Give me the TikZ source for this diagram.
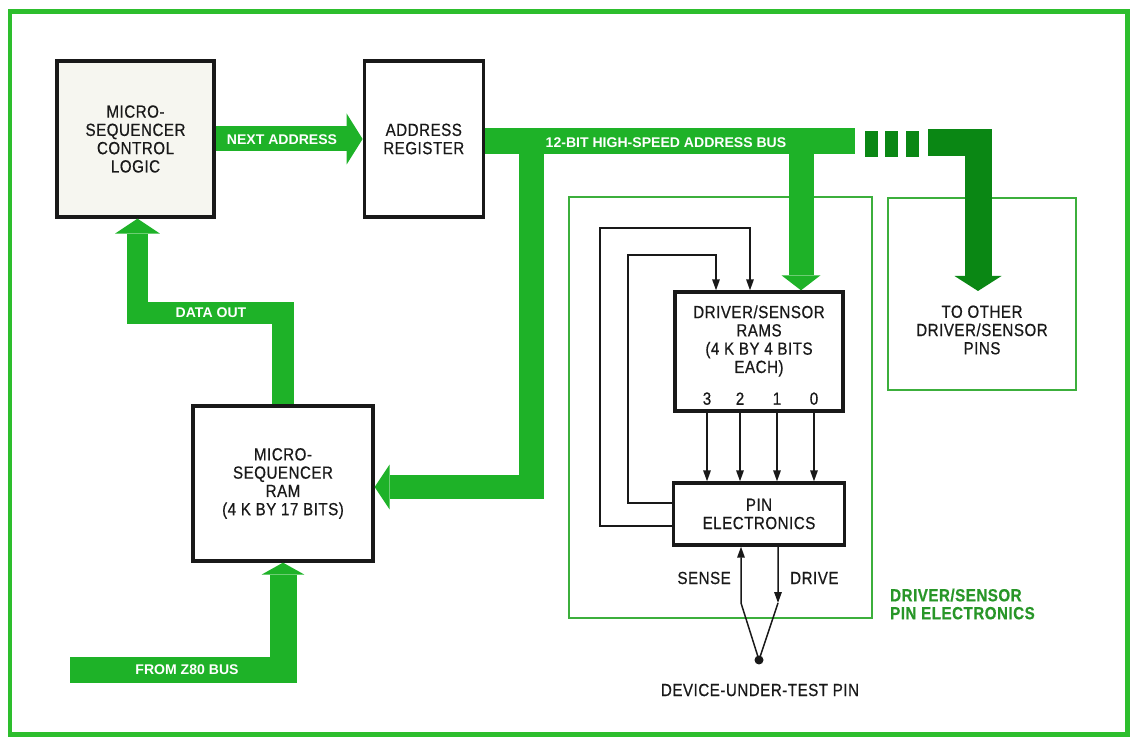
\documentclass[tikz,border=0pt]{standalone}
\usepackage{fontspec}
\setmainfont{Liberation Sans}[FakeStretch=0.86, FakeBold=0.6, LetterSpace=3]
\newfontfamily\tagfont{Liberation Sans}
\usetikzlibrary{arrows.meta,positioning,calc}
\definecolor{busgreen}{RGB}{30,178,40}
\definecolor{darkbus}{RGB}{10,135,20}
\definecolor{framegreen}{RGB}{45,190,45}
\definecolor{grpgreen}{RGB}{60,175,60}
\definecolor{labelgreen}{RGB}{40,150,40}
\definecolor{ink}{RGB}{25,25,25}
\definecolor{paper}{RGB}{246,246,240}
\tikzset{
  boxtext/.style={align=center, text=ink, font=\fontsize{10}{10.4}\selectfont},
  unit/.style={boxtext, rectangle, draw=ink, line width=1.9pt, fill=white, inner sep=0pt},
  grp/.style={rectangle, draw=grpgreen, line width=1.1pt, inner sep=0pt},
  grplbl/.style={align=left, text=labelgreen, font=\bfseries\fontsize{10}{10.2}\selectfont},
  tag/.style={text=white, font=\tagfont\bfseries\fontsize{8}{9}\selectfont},
  bitlbl/.style={text=ink, font=\fontsize{10}{10}\selectfont},
  bus/.style={draw=busgreen, line width=0.52cm},
  busarrow/.style={bus, line width=0.5cm, -{Triangle[length=0.3cm, width=0.9cm, line width=0pt]}},
  sig/.style={draw=ink, line width=0.85pt},
  sigarrow/.style={sig, -{Triangle[length=0.22cm, width=0.15cm]}},
  frame/.style={draw=framegreen, line width=0.1cm},
}
\begin{document}
\begin{tikzpicture}[x=0.02cm, y=-0.02cm]
  \useasboundingbox (0,0) rectangle (1133,739);
  \draw[frame] (10,12) rectangle (1127,734);

  \node[unit, fill=paper, minimum width=3.14cm, minimum height=3.12cm] (ctrl) at (135.5,139)
    {MICRO-\\SEQUENCER\\CONTROL\\LOGIC};
  \node[unit, minimum width=2.38cm, minimum height=3.12cm, right=2.94cm of ctrl] (addr) {ADDRESS\\REGISTER};
  \node[unit, minimum width=3.6cm, minimum height=3.1cm] (seqram) at (283,483.5)
    {MICRO-\\SEQUENCER\\RAM\\(4 K BY 17 BITS)};

  \node[grp, minimum width=6.06cm, minimum height=8.42cm] (grp) at (720.5,407.5) {};
  \node[grp, minimum width=3.76cm, minimum height=3.84cm] (othbox) at (982,294) {};
  \node[unit, minimum width=3.36cm, minimum height=2.38cm] (rams) at (759,351.5) {};
  \node[boxtext] (ramstxt) at (759,341) {DRIVER/SENSOR\\RAMS\\(4 K BY 4 BITS\\EACH)};
  \node[unit, minimum width=3.42cm, minimum height=1.24cm] (pe) at (759,514) {PIN\\ELECTRONICS};
  \node[boxtext] (othtxt) at (982,330) {TO OTHER\\DRIVER/SENSOR\\PINS};
  \node[grplbl, anchor=west] (grptxt) at (884,604) {DRIVER/SENSOR\\PIN ELECTRONICS};

  \coordinate (busend) at (855,141);
  \coordinate (tapA) at (531,141);
  \coordinate (tapB) at (801,141);
  \coordinate (ramturn) at (531,487);
  \coordinate (othA) at (928,143);
  \coordinate (othtip) at (978,291);
  \coordinate (doutbend) at (137.5,313);
  \coordinate (z80) at (70,670);

  \draw[busarrow, -{Triangle[length=0.32cm, width=1.02cm, line width=0pt]}] (ctrl.east) -- (addr.west);
  \draw[bus] (addr.east |- busend) -- (busend);
  \draw[busarrow] (tapA) -- (ramturn) -- (ramturn -| seqram.east);
  \draw[busarrow, -{Triangle[length=0.3cm, width=0.78cm, line width=0pt]}] (tapB) -- (tapB |- rams.north);
  \foreach \x in {865,885,906}
    \fill[darkbus] (\x,131) rectangle ++(13,26);
  \draw[busarrow, draw=darkbus, line width=0.54cm, -{Triangle[length=0.3cm, width=0.94cm, line width=0pt]}] (othA) -| (othtip);
  \draw[busarrow, line width=0.44cm] (seqram.north) |- (doutbend) -| (ctrl.south -| doutbend);
  \draw[busarrow, line width=0.54cm, -{Triangle[length=0.24cm, width=0.86cm, line width=0pt]}] (z80) -| (seqram.south);

  \node[tag] at (282,140) {NEXT ADDRESS};
  \node[tag] at (666,143) {12-BIT HIGH-SPEED ADDRESS BUS};
  \node[tag] at (211,313) {DATA OUT};
  \node[tag] at (187,670) {FROM Z80 BUS};

  \foreach \dx/\b in {-1.04/3,-0.38/2,0.36/1,1.1/0} {
    \draw[sigarrow] ([xshift=\dx cm]rams.south) -- ([xshift=\dx cm]pe.north);
    \node[bitlbl] at ([xshift=\dx cm, yshift=0.28cm]rams.south) {\b};
  }
  \coordinate (fbA) at (628,255);
  \coordinate (fbB) at (600,228);
  \draw[sigarrow] ([yshift=0.22cm]pe.west) -| (fbA) -| ([xshift=-0.86cm]rams.north);
  \draw[sigarrow] ([yshift=-0.24cm]pe.west) -| (fbB) -| ([xshift=-0.18cm]rams.north);

  \coordinate (senB) at (741,603);
  \coordinate (drvB) at (778,603);
  \coordinate (dut) at (759,660);
  \draw[sigarrow] (senB) -- ([xshift=-0.36cm]pe.south);
  \draw[sigarrow] ([xshift=0.38cm]pe.south) -- (drvB);
  \draw[sig] (senB) -- (dut) -- (drvB);
  \fill[ink] (dut) circle (0.09cm);
  \node[boxtext, anchor=east] at (737,578) {SENSE};
  \node[boxtext, anchor=west] at (784,578) {DRIVE};
  \node[boxtext] at (760,690) {DEVICE-UNDER-TEST PIN};
\end{tikzpicture}
\end{document}
